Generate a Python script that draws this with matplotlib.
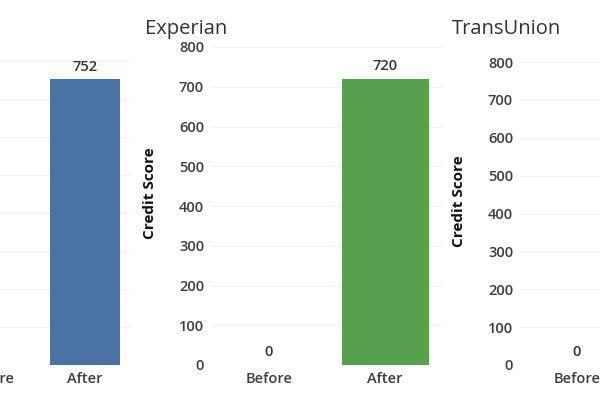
import matplotlib
matplotlib.use("Agg")
import matplotlib.pyplot as plt

# data (first and last panel are cut off by the crop)
bureaus = ["Equifax", "Experian", "TransUnion"]
periods = ["Before", "After"]
before_scores = [0, 0, 0]
after_scores = [752, 720, 700]
bar_colors = ["#4a73a3", "#56a04f", "#c44e52"]
score_ticks = [0, 100, 200, 300, 400, 500, 600, 700, 800]

plt.rcParams["font.family"] = ["Open Sans", "DejaVu Sans"]

W, H = 600, 413
fig = plt.figure(figsize=(W / 100, H / 100), dpi=100)

# panel boxes in pixels: left, right, top (at 800), bottom (at 0)
boxes = [(-56, 132, 61, 365), (211, 443, 47, 365), (520, 748, 62, 365)]
title_pos = [None, (186, 29), (506, 29)]

for i, name in enumerate(bureaus):
    left, right, top, bottom = boxes[i]
    ax = fig.add_axes([left / W, 1 - bottom / H, (right - left) / W, (bottom - top) / H])
    vals = [before_scores[i], after_scores[i]]
    ax.bar(range(len(periods)), vals, width=0.75, color=bar_colors[i], zorder=2)
    for x, v in enumerate(vals):
        ax.annotate(str(v), (x, v), xytext=(0, 4), textcoords="offset points",
                    ha="center", va="bottom", fontsize=10.5, fontweight="semibold",
                    color="#333333")
    ax.set_xlim(-0.5, 1.5)
    ax.set_ylim(0, 800)
    ax.set_xticks(range(len(periods)))
    ax.set_xticklabels(periods, fontweight="semibold")
    ax.set_yticks(score_ticks)
    ax.set_yticklabels([str(t) for t in score_ticks], fontweight="semibold")
    ax.tick_params(length=0, labelsize=10.5, labelcolor="#3d3d3d", pad=5)
    ax.grid(axis="y", color="#f3f3f3", linewidth=0.8, zorder=0)
    for s in ax.spines.values():
        s.set_visible(False)
    if title_pos[i] is None:
        # the first panel's axis and title lie outside the cropped view
        ax.tick_params(labelleft=False)
        continue
    ax.set_ylabel("Credit Score", fontsize=11, fontweight="bold", color="#111111")
    ax.yaxis.set_label_coords(-54 / (right - left), 0.54)
    fig.text(title_pos[i][0] / W, 1 - title_pos[i][1] / H, name,
             ha="center", va="center", fontsize=14.5, color="#333333")

fig.savefig("out.png", dpi=100)
